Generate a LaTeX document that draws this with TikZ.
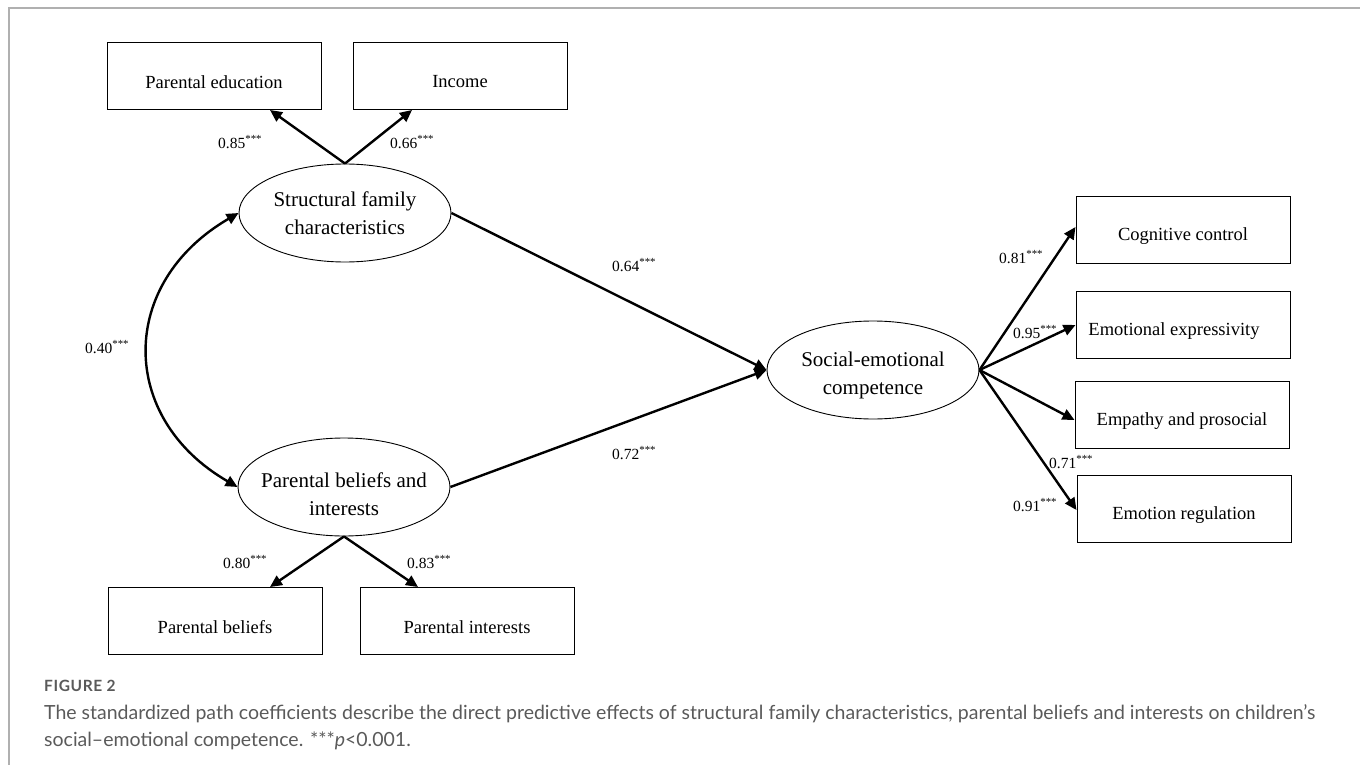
\documentclass[tikz,border=0pt]{standalone}
\usepackage{fontspec}
\setmainfont{Liberation Serif}
\newfontfamily\capfont{Lato}
\usetikzlibrary{arrows.meta,shapes.geometric,calc}

\definecolor{framegray}{HTML}{B0B0B0}
\definecolor{capgray}{HTML}{5A5A5A}

% lower a box label a little without changing its size
\newcommand{\lowtext}[1]{\raisebox{-6pt}[\height][\depth]{#1}}
% two centred lines, lowered by #1
\newcommand{\twolines}[3]{\raisebox{-#1}[\height][\depth]{\begin{tabular}{@{}c@{}}#2\\#3\end{tabular}}}

\tikzset{
  obsbox/.style={draw, line width=1pt, rectangle, minimum width=214pt,
    minimum height=67pt, inner sep=0pt,
    font=\fontsize{18.5}{22}\selectfont},
  latent/.style={draw, line width=0.9pt, ellipse, minimum width=212pt,
    minimum height=98pt, inner xsep=-40pt, inner ysep=-20pt,
    font=\fontsize{21}{28}\selectfont},
  path/.style={line width=2.4pt, -{Triangle[length=12pt,width=11pt]}},
  coef/.style={anchor=west, inner sep=0pt, font=\fontsize{15.5}{18}\selectfont},
  captext/.style={anchor=west, inner sep=0pt, text=capgray,
    font=\capfont\fontsize{19.5}{23}\selectfont},
}

\newcommand{\sig}[1]{#1\textsuperscript{***}}

\begin{document}
\begin{tikzpicture}[x=1pt,y=-1pt]
\useasboundingbox (0,0) rectangle (1360,765);

% page frame
\draw[framegray, line width=1.3pt] (9,765) -- (9,8) -- (1360,8);

% latent variables
\node[latent] (sf) at (345,213) {\twolines{2pt}{Structural family}{characteristics}};
\node[latent] (pbi) at (344,487) {\twolines{9pt}{Parental beliefs and}{interests}};
\node[latent] (se) at (873,370) {\twolines{5pt}{Social-emotional}{competence}};

% indicators of structural family characteristics
\node[obsbox] (pe) at (214,76) {\lowtext{Parental education}};
\node[obsbox] (inc) at (460,76) {\lowtext{Income}};

% indicators of parental beliefs and interests
\node[obsbox] (pb) at (215,621) {\lowtext{Parental beliefs}};
\node[obsbox] (pin) at (467,621) {\lowtext{Parental interests}};

% indicators of social-emotional competence
\node[obsbox] (cc) at (1183,230) {\lowtext{Cognitive control}};
\node[obsbox] (ee) at (1183,325) {\lowtext{\hspace*{-18pt}Emotional expressivity}};
\node[obsbox] (ep) at (1182,415) {\lowtext{Empathy and prosocial}};
\node[obsbox] (er) at (1184,509) {\lowtext{Emotion regulation}};

% loadings
\draw[path] (sf.north) -- ($(pe.south)+(56,0)$);
\draw[path] (sf.north) -- ($(inc.south)+(-48,0)$);
\draw[path] (pbi.south) -- ($(pb.north)+(55,0)$);
\draw[path] (pbi.south) -- ($(pin.north)+(-49,0)$);
\draw[path] (se.east) -- ($(cc.west)+(0,-3)$);
\draw[path] (se.east) -- (ee.west);
\draw[path] (se.east) -- ($(ep.west)+(0,5)$);
\draw[path] (se.east) -- ($(er.west)+(0,1)$);

% structural paths
\draw[path] (sf.east) -- (se.west);
\draw[path] (pbi.east) -- (se.west);

% covariance
\draw[line width=2.4pt, {Triangle[length=12pt,width=11pt]}-{Triangle[length=12pt,width=11pt]}]
  (sf.west) .. controls (118,283) and (118,418) .. (pbi.west);

% coefficients
\node[coef] (c1) at (218,142) {\sig{0.85}};
\node[coef] (c2) at (390,142) {\sig{0.66}};
\node[coef] (c3) at (85,347) {\sig{0.40}};
\node[coef] (c4) at (612,265) {\sig{0.64}};
\node[coef] (c5) at (612,453) {\sig{0.72}};
\node[coef] (c6) at (999,257) {\sig{0.81}};
\node[coef] (c7) at (1013,332) {\sig{0.95}};
\node[coef] (c8) at (1049,462) {\sig{0.71}};
\node[coef] (c9) at (1013,505) {\sig{0.91}};
\node[coef] (c10) at (223,562) {\sig{0.80}};
\node[coef] (c11) at (407,562) {\sig{0.83}};

% caption
\node[anchor=west, inner sep=0pt, text=capgray,
  font=\capfont\bfseries\fontsize{15.5}{18}\selectfont\addfontfeature{LetterSpace=4}] (fig) at (44,686) {FIGURE 2};
\node[captext] (cap1) at (44,714)
  {The standardized path coefficients describe the direct predictive effects of structural family characteristics, parental beliefs and interests on children’s};
\node[captext] (cap2) at (44,741)
  {social–emotional competence. ***\textit{p}<0.001.};
\end{tikzpicture}
\end{document}
